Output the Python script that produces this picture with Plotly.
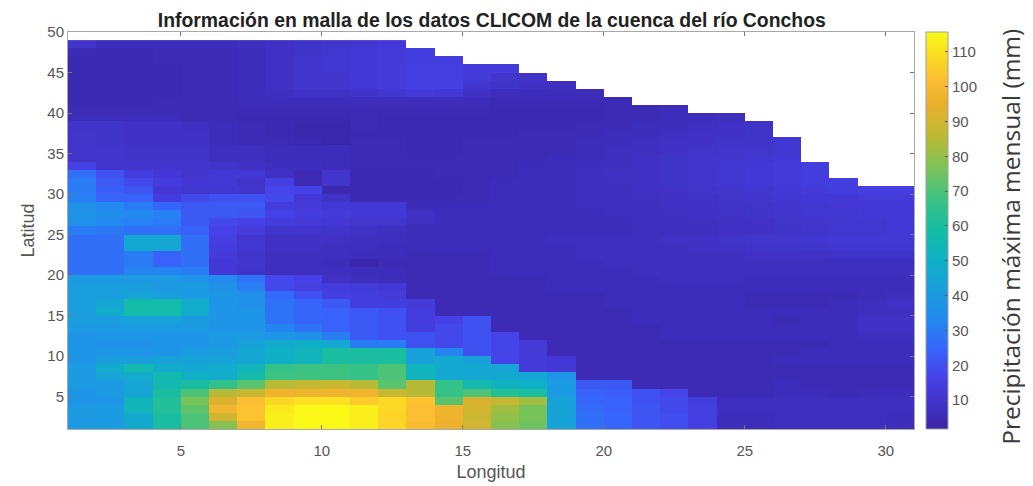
import plotly.graph_objects as go

_ = None
x_edges = list(range(1, 32))
y_edges = list(range(1, 50))
title = "Información en malla de los datos CLICOM de la cuenca del río Conchos"
x_label = "Longitud"
y_label = "Latitud"
cbar_label = "Precipitación máxima mensual (mm)"
x_ticks = [5, 10, 15, 20, 25, 30]
y_ticks = [5, 10, 15, 20, 25, 30, 35, 40, 45, 50]
cbar_ticks = [10, 20, 30, 40, 50, 60, 70, 80, 90, 100, 110]
z_min, z_max = 1.7, 115.7

# Row order: latitude 1 (bottom) to latitude 48 (top); 30 longitude cells per row.
precip = [
 [40,40,47,60,70,78,98,113,115,115,113,107,101,96,90,78,75,44,27,25,21,19,15,6,6,7,7,7,7,6],
 [40,40,47,60,70,90,103,113,115,115,113,107,102,97,88,80,76,44,27,25,21,19,15,6,6,7,7,7,7,6],
 [40,40,53,62,73,98,103,112,115,115,113,108,102,97,90,82,76,44,26,24,21,18,15,7,7,7,7,7,7,7],
 [38,38,53,62,76,92,102,108,110,110,105,108,103,72,92,88,82,44,25,24,20,18,14,7,7,7,7,7,7,7],
 [38,40,45,60,70,85,88,97,97,97,97,88,85,66,70,62,60,40,24,23,20,17,5,5,5,6,6,5,6,6],
 [40,40,45,56,60,65,72,85,87,88,85,72,85,66,56,52,50,40,22,22,5,5,5,5,5,6,5,5,5,5],
 [40,45,48,56,50,48,58,68,68,68,66,70,53,46,46,46,46,38,5,5,5,5,5,5,5,5,5,5,5,5],
 [40,48,56,48,46,48,53,66,68,68,66,70,53,46,46,45,13,12,5,5,5,5,5,5,5,5,5,5,5,5],
 [38,42,42,44,44,44,46,50,53,60,60,60,43,46,43,17,13,12,5,5,5,5,5,5,5,6,6,6,6,6],
 [38,38,38,38,40,42,46,50,53,60,60,60,43,32,20,17,13,5,5,5,5,5,5,5,5,5,6,6,6,6],
 [38,36,36,38,38,40,44,48,50,46,30,30,20,18,20,17,13,5,5,5,5,5,5,5,5,5,5,6,6,6],
 [38,38,38,38,38,40,40,38,36,30,22,20,20,18,20,17,5,5,5,5,5,6,6,6,6,6,6,6,7,7],
 [40,40,40,40,40,38,38,32,28,24,22,20,14,18,20,5,5,5,5,5,5,6,6,6,6,6,6,6,8,8],
 [42,42,44,44,40,38,38,28,25,24,22,20,14,16,20,5,5,5,5,5,6,6,6,6,6,5,6,6,8,8],
 [42,48,58,58,48,38,38,28,25,24,22,20,14,5,5,5,5,5,5,5,6,6,6,6,6,6,6,6,7,7],
 [42,46,58,58,48,38,36,28,25,22,14,14,13,5,5,5,5,5,5,6,6,6,6,6,5,5,5,6,7,8],
 [42,42,44,42,40,38,36,26,20,15,14,13,5,5,5,5,5,5,5,6,6,6,6,6,5,5,5,5,6,7],
 [42,42,42,40,40,36,30,18,15,14,13,12,5,5,5,5,5,6,6,6,6,6,6,6,6,6,6,6,6,6],
 [40,40,40,40,38,34,28,18,16,8,7,6,5,5,5,5,5,6,6,6,6,7,7,7,6,6,6,6,6,6],
 [27,27,32,32,30,12,9,7,7,7,6,6,5,5,5,6,6,6,6,6,7,7,7,7,7,7,7,7,7,7],
 [27,27,30,24,27,12,10,7,7,6,3,5,5,5,5,6,6,6,6,7,7,7,7,7,7,7,7,7,7,7],
 [27,27,30,24,27,13,10,7,7,7,6,6,5,5,5,6,6,6,7,7,7,7,7,7,8,8,8,9,9,9],
 [27,27,46,46,27,14,11,8,8,7,7,6,6,6,6,6,6,6,7,7,7,7,8,8,9,9,10,11,11,11],
 [27,27,46,46,27,15,11,8,8,8,7,7,6,6,6,6,6,7,7,7,7,8,8,9,10,10,11,12,12,12],
 [30,29,27,27,24,16,13,10,10,9,8,7,6,6,6,6,6,6,6,6,7,7,7,8,8,9,10,11,11,12],
 [36,33,31,30,22,18,16,14,13,12,10,10,7,6,6,6,6,6,6,6,7,7,7,8,8,9,10,11,11,12],
 [38,35,33,31,22,22,21,16,14,13,12,12,8,6,6,6,6,6,6,7,7,7,8,8,9,10,11,11,12,12],
 [37,33,30,25,22,22,22,14,13,12,12,12,6,6,6,6,6,6,7,7,7,8,8,9,9,10,11,12,12,12],
 [31,25,24,14,18,20,20,18,12,9,5,5,5,5,5,6,6,6,7,7,7,8,8,9,10,11,12,12,13,13],
 [30,23,21,12,11,11,10,17,16,4,4,4,4,4,5,6,6,6,7,7,8,8,9,10,11,12,13,14,15,15],
 [30,22,18,14,12,12,9,15,5,10,4,4,4,4,5,6,6,6,7,7,8,9,10,11,12,13,14,15,_,_],
 [27,20,14,12,10,12,12,8,5,10,4,4,4,5,5,5,6,6,7,8,8,9,10,11,12,13,14,_,_,_],
 [16,10,10,10,10,9,8,7,7,6,5,5,5,5,5,5,6,6,7,7,8,9,10,11,12,13,14,_,_,_],
 [10,10,9,9,9,7,7,6,6,6,5,5,5,5,5,5,5,6,6,7,8,9,10,10,11,12,_,_,_,_],
 [10,10,9,9,9,7,7,6,6,6,5,5,4,4,5,5,5,5,6,7,7,8,9,10,10,11,_,_,_,_],
 [10,9,8,8,8,6,5,5,4,3,5,5,4,4,5,5,5,5,6,6,7,8,8,9,9,11,_,_,_,_],
 [10,9,8,8,8,6,5,4,3,3,4,4,4,4,4,4,5,5,5,6,6,7,8,8,9,_,_,_,_,_],
 [9,9,8,8,7,6,5,4,3,3,5,4,4,4,4,4,4,4,5,5,6,6,7,8,9,_,_,_,_,_],
 [6,6,6,6,5,5,4,4,4,4,5,4,4,4,4,4,4,4,4,5,5,6,6,7,_,_,_,_,_,_],
 [5,5,5,5,5,5,5,5,5,5,5,5,5,5,5,4,4,4,4,5,5,6,_,_,_,_,_,_,_,_],
 [4,4,4,5,5,5,6,6,6,6,6,6,6,6,6,5,5,5,5,5,_,_,_,_,_,_,_,_,_,_],
 [4,4,4,4,5,5,6,7,8,8,9,11,13,12,8,6,6,6,6,_,_,_,_,_,_,_,_,_,_,_],
 [4,4,4,4,5,5,6,8,10,10,12,13,15,15,11,9,8,7,_,_,_,_,_,_,_,_,_,_,_,_],
 [4,4,4,4,5,5,6,8,10,10,12,13,15,15,13,10,9,_,_,_,_,_,_,_,_,_,_,_,_,_],
 [4,4,4,4,5,5,6,8,10,11,12,13,15,15,13,13,_,_,_,_,_,_,_,_,_,_,_,_,_,_],
 [4,4,4,5,5,5,6,8,10,11,12,13,14,14,_,_,_,_,_,_,_,_,_,_,_,_,_,_,_,_],
 [5,4,4,5,5,5,6,8,9,11,12,13,14,_,_,_,_,_,_,_,_,_,_,_,_,_,_,_,_,_],
 [10,6,6,6,6,6,7,8,9,10,11,12,_,_,_,_,_,_,_,_,_,_,_,_,_,_,_,_,_,_],
]

parula = [
    [0.00, "rgb(58,36,165)"],
    [0.04, "rgb(62,46,188)"],
    [0.08, "rgb(66,54,208)"],
    [0.13, "rgb(70,66,232)"],
    [0.20, "rgb(55,100,250)"],
    [0.27, "rgb(35,135,240)"],
    [0.34, "rgb(28,155,225)"],
    [0.42, "rgb(15,175,200)"],
    [0.50, "rgb(20,188,165)"],
    [0.58, "rgb(60,195,130)"],
    [0.66, "rgb(125,195,85)"],
    [0.74, "rgb(190,185,50)"],
    [0.82, "rgb(235,175,45)"],
    [0.88, "rgb(252,190,50)"],
    [0.94, "rgb(250,220,35)"],
    [1.00, "rgb(249,251,21)"],
]

text_font = "Liberation Sans, Arial"
grey = "#555555"

fig = go.Figure(go.Heatmap(
    x=x_edges, y=y_edges, z=precip,
    zmin=z_min, zmax=z_max, colorscale=parula, hoverongaps=False,
    colorbar=dict(
        x=1.0142, xanchor="left", xpad=0, ypad=0,
        y=0.5, yanchor="middle", len=1, lenmode="fraction",
        thickness=22, thicknessmode="pixels",
        tickmode="array", tickvals=cbar_ticks,
        ticks="inside", ticklen=3, tickcolor=grey, tickwidth=1,
        tickfont=dict(family=text_font, size=15, color=grey),
        outlinecolor="#a0a0a0", outlinewidth=1,
    ),
))

axis_common = dict(
    showgrid=False, zeroline=False, showline=True, mirror="ticks",
    linecolor="#a8a8a8", linewidth=1, ticks="inside", ticklen=4,
    tickcolor="#777777", tickwidth=1,
    tickfont=dict(family=text_font, size=15, color=grey),
    title_font=dict(family=text_font, size=18, color=grey),
)
fig.update_xaxes(range=[1, 31], tickmode="array", tickvals=x_ticks,
                 ticklabelstandoff=8, automargin=False,
                 title_text=x_label, title_standoff=7, **axis_common)
fig.update_yaxes(range=[1, 50], tickmode="array", tickvals=y_ticks,
                 title_text=y_label, title_standoff=8, **axis_common)

# The page adds an 8px body margin on the left and top, so the figure is 8px smaller.
fig.update_layout(
    width=1025, height=478, autosize=False,
    margin=dict(l=60, r=119, t=24, b=57, pad=0),
    paper_bgcolor="white", plot_bgcolor="white",
    title=dict(text=f"<b>{title}</b>", x=0.472, xanchor="center", y=0.975, yanchor="middle",
               font=dict(family=text_font, size=19.4, color="#222222")),
    annotations=[dict(
        text=cbar_label, textangle=-90, showarrow=False,
        xref="paper", yref="paper", x=(1011 - 68) / 846, y=0.484,
        xanchor="center", yanchor="middle",
        font=dict(family="Open Sans", size=24.5, color="#3a3a3a"),
    )],
)

fig.write_html("out.html")
